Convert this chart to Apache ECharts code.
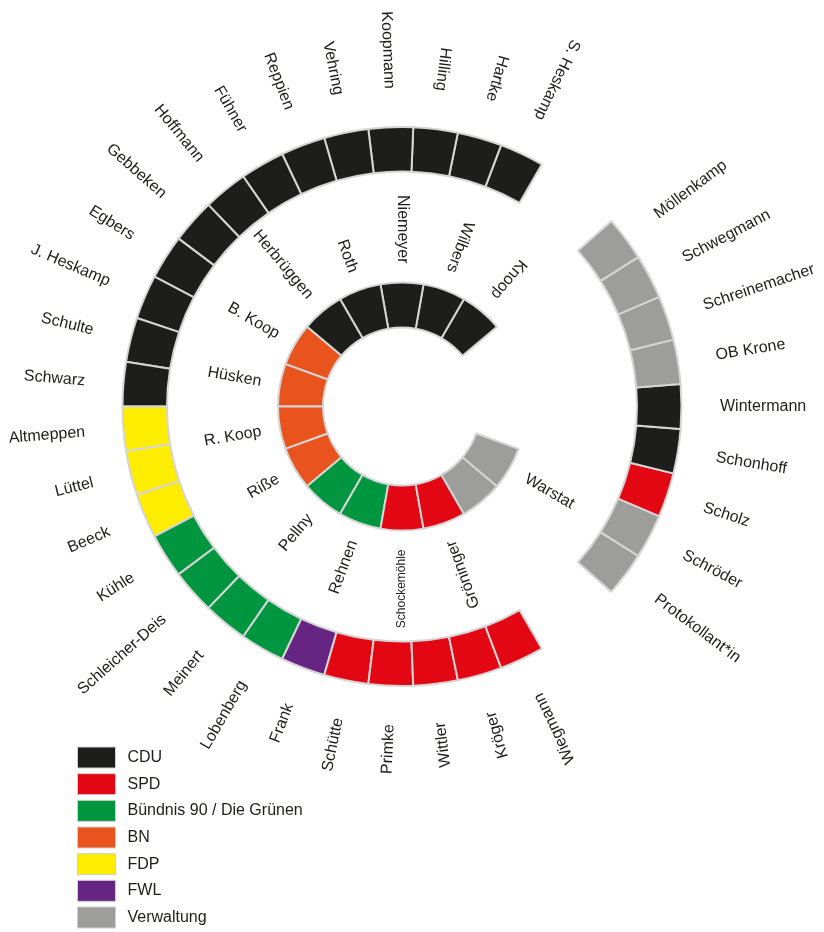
<!DOCTYPE html>
<html><head><meta charset="utf-8">
<script src="https://cdn.jsdelivr.net/npm/echarts@6/dist/echarts.min.js"></script>
<style>html,body{margin:0;padding:0;background:#fff}#c{width:824px;height:932px}</style>
</head><body><div id="c"></div>
<script>
// ---- data ----
const parties = ['CDU', 'SPD', 'Bündnis 90 / Die Grünen', 'BN', 'FDP', 'FWL', 'Verwaltung'];
const partyColors = ['#1d1d1b', '#e30613', '#009640', '#e8531e', '#ffed00', '#662483', '#9d9d9c'];

// outer ring: 39 equal seats/slots, counter-clockwise from 60°, null = empty slot
const outerNames = ['S. Heskamp', 'Hartke', 'Hilling', 'Koopmann', 'Vehring', 'Reppien', 'Fühner', 'Hoffmann',
  'Gebbeken', 'Egbers', 'J. Heskamp', 'Schulte', 'Schwarz', 'Altmeppen', 'Lüttel', 'Beeck', 'Kühle',
  'Schleicher-Deis', 'Meinert', 'Lobenberg', 'Frank', 'Schütte', 'Primke', 'Wittler', 'Kröger', 'Wiegmann',
  null, null,
  'Protokollant*in', 'Schröder', 'Scholz', 'Schonhoff', 'Wintermann', 'OB Krone', 'Schreinemacher', 'Schwegmann', 'Möllenkamp',
  null, null];
const outerParty = ['CDU', 'CDU', 'CDU', 'CDU', 'CDU', 'CDU', 'CDU', 'CDU', 'CDU', 'CDU', 'CDU', 'CDU', 'CDU',
  'FDP', 'FDP', 'FDP',
  'Bündnis 90 / Die Grünen', 'Bündnis 90 / Die Grünen', 'Bündnis 90 / Die Grünen', 'Bündnis 90 / Die Grünen',
  'FWL', 'SPD', 'SPD', 'SPD', 'SPD', 'SPD',
  null, null,
  'Verwaltung', 'Verwaltung', 'SPD', 'CDU', 'CDU', 'Verwaltung', 'Verwaltung', 'Verwaltung', 'Verwaltung',
  null, null];
const outerLabelDir = ['in', 'in', 'in', 'in', 'in', 'in', 'in', 'in', 'in', 'in', 'in', 'in', 'in',
  'in', 'in', 'in', 'in', 'in', 'in', 'in', 'in', 'in', 'in', 'in', 'in', 'in', null, null,
  'out', 'out', 'out', 'out', 'out', 'out', 'out', 'out', 'out', null, null];

// inner ring: 18 equal slots, counter-clockwise from 40°
const innerNames = ['Knoop', 'Wilbers', 'Niemeyer', 'Roth', 'Herbrüggen', 'B. Koop', 'Hüsken', 'R. Koop', 'Riße',
  'Pellny', 'Rehnen', 'Schockemöhle', 'Gröninger', '', 'Warstat', null, null, null];
const innerParty = ['CDU', 'CDU', 'CDU', 'CDU', 'CDU', 'BN', 'BN', 'BN', 'BN',
  'Bündnis 90 / Die Grünen', 'Bündnis 90 / Die Grünen', 'SPD', 'SPD', 'Verwaltung', 'Verwaltung', null, null, null];
const innerLabelDir = ['in', 'in', 'in', 'in', 'in', 'in', 'in', 'in', 'in', 'in', 'in', 'in', 'in', null, 'out', null, null, null];
const smallLabels = ['Schockemöhle'];

// ---- layout ----
const CX = 402, CY = 406.5;
const FONT = "'Liberation Sans', Arial, Helvetica, sans-serif";
const TXT = '#1d1d1b';
const rings = [
  { names: outerNames, party: outerParty, dir: outerLabelDir, start: 60, radius: [235, 279.5], labelR: 318 },
  { names: innerNames, party: innerParty, dir: innerLabelDir, start: 40, radius: [79, 124], labelR: 143 }
];
const colorOf = p => partyColors[parties.indexOf(p)];

const series = [];
rings.forEach((ring, ri) => {
  series.push({
    type: 'pie', center: [CX, CY], radius: ring.radius, startAngle: ring.start, clockwise: false,
    silent: true, animation: false, label: { show: false }, labelLine: { show: false },
    emphasis: { disabled: true },
    itemStyle: { borderColor: '#d5d5d5', borderWidth: 2 },
    data: ring.names.map((n, i) => ring.party[i]
      ? { name: 'r' + ri + '_' + i, value: 1, itemStyle: { color: colorOf(ring.party[i]) } }
      : { name: 'gap' + ri + '_' + i, value: 1, itemStyle: { color: 'rgba(0,0,0,0)', borderWidth: 0 } })
  });
});

// label series (one per party, also feeds the legend)
parties.forEach((p, k) => {
  const data = [];
  rings.forEach(ring => {
    const step = 360 / ring.names.length;
    ring.names.forEach((n, i) => {
      if (!n || ring.party[i] !== p) return;
      const ang = ring.start + (i + 0.5) * step;
      const out = ring.dir[i] === 'out';
      let rot = out ? ang : ang + 180;
      while (rot > 180) rot -= 360;
      data.push({
        name: n, value: [ring.labelR, ang],
        label: { rotate: rot, align: out ? 'left' : 'right', fontSize: smallLabels.includes(n) ? 12 : 16 }
      });
    });
  });
  series.push({
    type: 'scatter', name: p, coordinateSystem: 'polar', symbolSize: 0, clip: false, silent: true,
    animation: false, itemStyle: { color: partyColors[k], opacity: 1 },
    label: { show: true, formatter: '{b}', position: 'inside', verticalAlign: 'middle', color: TXT, opacity: 1, fontFamily: FONT, fontSize: 16 },
    data
  });
});

const chart = echarts.init(document.getElementById('c'), null, { renderer: 'canvas' });
chart.setOption({
  backgroundColor: '#ffffff',
  animation: false,
  polar: { center: [CX, CY], radius: 400 },
  angleAxis: { type: 'value', min: 0, max: 360, startAngle: 0, clockwise: false, show: false },
  radiusAxis: { type: 'value', min: 0, max: 400, show: false },
  legend: {
    orient: 'vertical', left: 77, top: 746.5, height: 400, padding: 0, itemWidth: 38, itemHeight: 21, itemGap: 4.67,
    icon: 'rect', data: parties, selectedMode: false,
    itemStyle: { borderColor: '#cfcfcf', borderWidth: 1, opacity: 1 },
    textStyle: { fontSize: 16, color: TXT, fontFamily: FONT, padding: [0, 0, 0, 7] }
  },
  series
});
</script></body></html>
